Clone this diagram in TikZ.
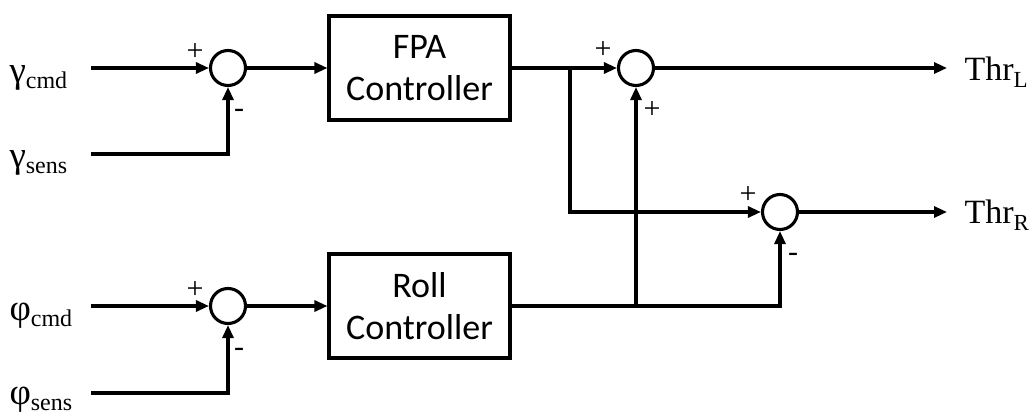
\documentclass[tikz,border=0pt]{standalone}
\usepackage{fontspec}
\setmainfont{Liberation Serif}
\newfontfamily\boxfont{Carlito}
\usetikzlibrary{arrows.meta}
\begin{document}
\begin{tikzpicture}[x=1pt,y=-1pt, line width=3.1pt,
  sumnode/.style={draw, circle, minimum size=35pt, inner sep=0pt},
  ctrlbox/.style={draw, minimum width=181pt, minimum height=104pt, inner sep=0pt, align=center, font=\boxfont\fontsize{36}{42}\selectfont},
  sig/.style={-{Triangle[length=13pt,width=11pt]}},
  sgn/.style={font=\fontsize{30}{30}\selectfont, inner sep=0pt},
  lbl/.style={anchor=base west, inner sep=0pt}]
\useasboundingbox (0,0) rectangle (1031,415);

% summing junctions
\node[sumnode] (s1) at (228,68) {};
\node[sumnode] (s2) at (636,68) {};
\node[sumnode] (s3) at (780,212) {};
\node[sumnode] (s4) at (228,306) {};

% controllers
\node[ctrlbox] (fpa) at (419.5,68) {FPA\\Controller};
\node[ctrlbox] (roll) at (419.5,306) {Roll\\Controller};

% free ends and junctions
\coordinate (gcmdS) at (91,68);
\coordinate (gsensS) at (91,154);
\coordinate (pcmdS) at (91,306);
\coordinate (psensS) at (91,393);
\coordinate (j1) at (570,68);
\coordinate (j2) at (636,306);
\coordinate (thrL) at (947,68);
\coordinate (thrR) at (947,212);

% input labels
\node[lbl] (gcmd) at (8,82) {\fontsize{37}{40}\selectfont γ\raisebox{-6pt}{\fontsize{24}{28}\selectfont cmd}};
\node[lbl] (gsens) at (8,167) {\fontsize{37}{40}\selectfont γ\raisebox{-6pt}{\fontsize{24}{28}\selectfont sens}};
\node[lbl] (pcmd) at (8,320) {\fontsize{37}{40}\selectfont φ\raisebox{-6pt}{\fontsize{24}{28}\selectfont cmd}};
\node[lbl] (psens) at (8,404) {\fontsize{37}{40}\selectfont φ\raisebox{-6pt}{\fontsize{24}{28}\selectfont sens}};

% output labels
\node[lbl] (tl) at (963,80) {\fontsize{34}{40}\selectfont Thr\raisebox{-7pt}{\fontsize{23}{28}\selectfont L}};
\node[lbl] (tr) at (963,223) {\fontsize{34}{40}\selectfont Thr\raisebox{-7pt}{\fontsize{23}{28}\selectfont R}};

% signs
\node[sgn] (p1) at (195,52) {+};
\node[sgn] (m1) at (239,113) {-};
\node[sgn] (p4) at (195,290) {+};
\node[sgn] (m4) at (239,352) {-};
\node[sgn] (p2a) at (603,50) {+};
\node[sgn] (p2b) at (652,110) {+};
\node[sgn] (p3) at (748,195) {+};
\node[sgn] (m3) at (793,257) {-};

% connectors
\draw[sig] (gcmdS) -- (s1);
\draw[sig] (gsensS) -| (s1);
\draw[sig] (s1) -- (fpa);
\draw[sig] (pcmdS) -- (s4);
\draw[sig] (psensS) -| (s4);
\draw[sig] (s4) -- (roll);
\draw[sig] (fpa) -- (s2);
\draw[sig] (j1) |- (s3);
\draw[sig] (roll) -| (s3);
\draw[sig] (j2) -- (s2);
\draw[sig] (s2) -- (thrL);
\draw[sig] (s3) -- (thrR);
\end{tikzpicture}
\end{document}
